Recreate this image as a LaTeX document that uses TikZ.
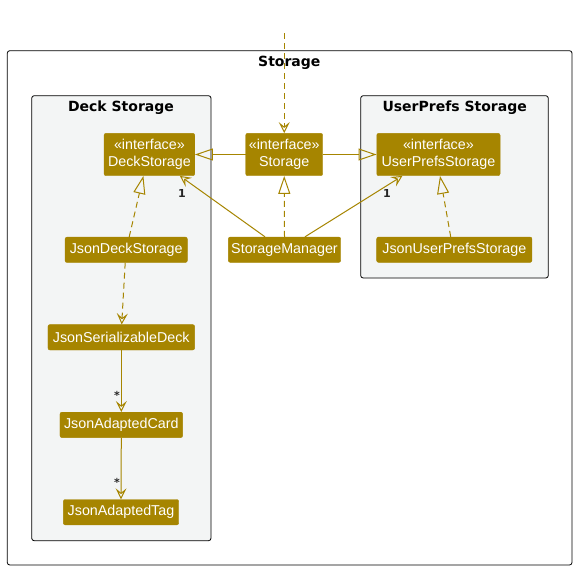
\documentclass[tikz,border=0pt]{standalone}
\usepackage{fontspec}
\setmainfont{Liberation Sans}
\newfontfamily\titlefont{DejaVu Sans}
\usetikzlibrary{arrows.meta,calc}
\definecolor{nodegold}{HTML}{A68500}
\definecolor{pkgfill}{HTML}{F3F5F5}
\tikzset{
  cls/.style={fill=nodegold, draw=nodegold, rounded corners=2pt, text=white,
    font=\fontsize{14.3}{17}\selectfont, minimum height=25.4pt, inner sep=0pt, align=center},
  iface/.style={cls, minimum height=42.4pt},
  pkg/.style={draw=black, line width=0.8pt, rounded corners=2.5pt, fill=pkgfill},
  frame/.style={draw=black, line width=0.8pt, rounded corners=2.5pt, fill=white},
  ttl/.style={font=\titlefont\bfseries\fontsize{14}{17}\selectfont, inner sep=0pt},
  edge/.style={draw=nodegold, line width=1pt},
  dsh/.style={edge, dash pattern=on 6pt off 4pt},
  ext/.style={-{Triangle[open, length=18pt, width=12pt, line width=1pt]}},
  dep/.style={-{Stealth[open, length=11pt, width=11pt, inset=4.5pt, line width=1pt]}},
  mult/.style={font=\titlefont\bfseries\fontsize{11}{13}\selectfont, inner sep=0pt, text=black!85}
}
\begin{document}
\begin{tikzpicture}[x=1pt,y=-1pt]
\useasboundingbox (0,0) rectangle (577,570);
% frames
\path[frame] (7.3,50.7) rectangle (572,565);
\node[ttl] (tStorage) at (289.3,62.7) {Storage};
\path[pkg] (31.7,95.7) rectangle (211,540.7);
\node[ttl] (tDeck) at (121,107.3) {Deck Storage};
\path[pkg] (360.7,95.7) rectangle (548.3,278);
\node[ttl] (tUser) at (454.7,107.3) {UserPrefs Storage};
% classes
\node[iface, minimum width=90.7pt] (DS) at (149.4,154.5) {«interface»\\DeckStorage};
\node[iface, minimum width=77pt] (ST) at (284.2,154.5) {«interface»\\Storage};
\node[iface, minimum width=123.3pt] (UPS) at (438.4,154.5) {«interface»\\UserPrefsStorage};
\node[cls, minimum width=112.4pt] (SM) at (284.5,249.7) {StorageManager};
\node[cls, minimum width=155.3pt] (JUPS) at (454.3,249.7) {JsonUserPrefsStorage};
\node[cls, minimum width=122.3pt] (JDS) at (126.2,249.8) {JsonDeckStorage};
\node[cls, minimum width=146.7pt] (JSD) at (121.3,337.3) {JsonSerializableDeck};
\node[cls, minimum width=122.7pt] (JAC) at (121.3,424.9) {JsonAdaptedCard};
\node[cls, minimum width=115.4pt] (JAT) at (121,512.2) {JsonAdaptedTag};
% edges
\coordinate (top) at (284.2,33);
\draw[dsh, dep] (top) -- (ST.north);
\draw[edge, ext] (ST.west) -- (DS.east);
\draw[edge, ext] (ST.east) -- (UPS.west);
\draw[dsh, ext] (SM.north) -- (ST.south);
\draw[edge, dep] ([xshift=-19.5pt]SM.north) -- ([xshift=30.5pt]DS.south);
\draw[edge, dep] ([xshift=20.5pt]SM.north) -- ([xshift=-36pt]UPS.south);
\draw[dsh, ext] ([xshift=-3.6pt]JUPS.north) -- ([xshift=1.6pt]UPS.south);
\draw[dsh, ext] ([xshift=3pt]JDS.north) -- ([xshift=-6pt]DS.south);
\draw[dsh, dep] ([xshift=-1pt]JDS.south) -- ([xshift=0.4pt]JSD.north);
\draw[edge, dep] (JSD.south) -- (JAC.north);
\draw[edge, dep] (JAC.south) -- (JAT.north);
% multiplicities
\node[mult] (m1) at (182,193) {1};
\node[mult] (m2) at (387,193) {1};
\node[mult] (m3) at (117,395) {*};
\node[mult] (m4) at (117,482) {*};
\end{tikzpicture}
\end{document}
